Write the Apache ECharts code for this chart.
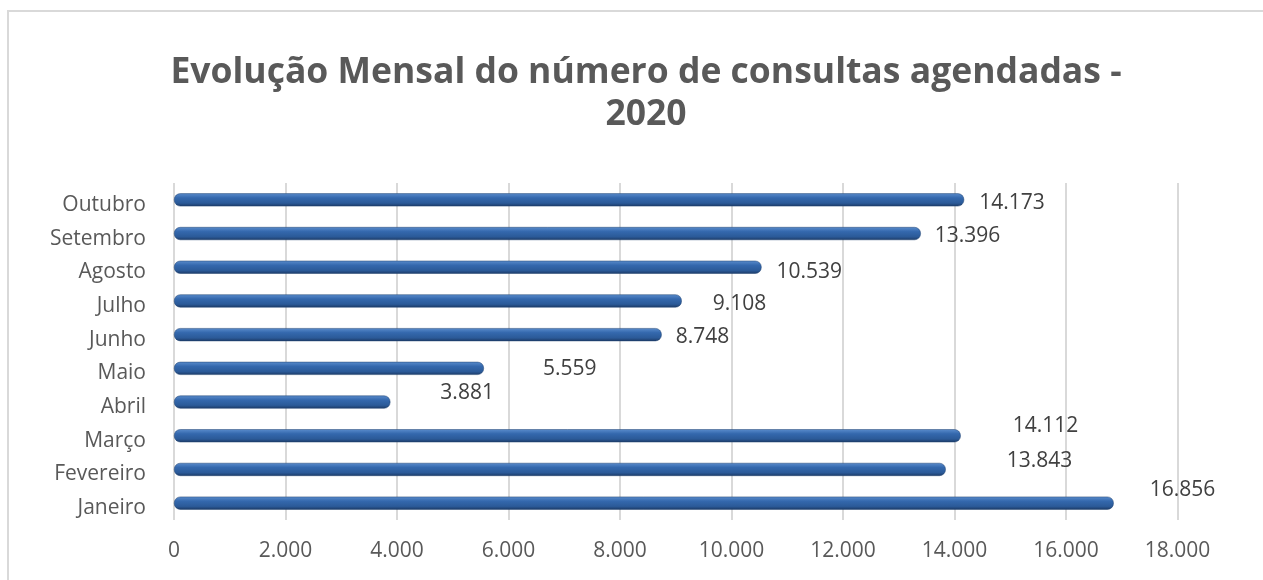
<!DOCTYPE html>
<html>
<head>
<meta charset="utf-8">
<script src="https://cdn.jsdelivr.net/npm/echarts@6/dist/echarts.min.js"></script>
<style>
html,body{margin:0;padding:0;background:#fff;}
#chart{width:1263px;height:580px;}
</style>
</head>
<body>
<div id="chart"></div>
<script>
const titleText = 'Evolução Mensal do número de consultas agendadas -\n2020';
const months = ['Janeiro','Fevereiro','Março','Abril','Maio','Junho','Julho','Agosto','Setembro','Outubro'];
const consultas = [16856, 13843, 14112, 3881, 5559, 8748, 9108, 10539, 13396, 14173];
const axisMin = 0, axisMax = 18000, axisStep = 2000;
// label nudges (style only), [dx, dy] in px
const labelNudges = [[36,-13],[61,-8],[52,-10],[50,-9],[59,1],[14,2],[31,3],[15,5],[14,2],[15,3]];

function fmt(v){ return String(v).replace(/\B(?=(\d{3})+(?!\d))/g, '.'); }

const chart = echarts.init(document.getElementById('chart'), null, {renderer:'canvas'});
const FONT = '"Open Sans", "Noto Sans", sans-serif';
chart.setOption({
  animation:false,
  backgroundColor:'#fff',
  graphic:[{type:'rect', shape:{x:8,y:11,width:1300,height:620}, style:{fill:'none', stroke:'#d9d9d9', lineWidth:2}, silent:true}],
  title:{
    text:titleText, left:641, top:47, textAlign:'center',
    textStyle:{fontFamily:FONT, fontWeight:'bold', fontSize:35.5, color:'#595959', lineHeight:42, align:'center'}
  },
  grid:{left:174, width:1003.5, top:183, height:337, containLabel:false},
  xAxis:{
    type:'value', min:axisMin, max:axisMax, interval:axisStep,
    axisLine:{show:false}, axisTick:{show:false},
    splitLine:{show:true, lineStyle:{color:'#d9d9d9', width:2}},
    axisLabel:{margin:21, color:'#595959', fontFamily:FONT, fontSize:21, formatter:fmt}
  },
  yAxis:{
    type:'category', data:months,
    axisLine:{show:false}, axisTick:{show:false},
    axisLabel:{margin:28, color:'#595959', fontFamily:FONT, fontSize:21, verticalAlign:'top', lineHeight:10}
  },
  series:[{
    type:'bar', barWidth:13,
    data: consultas.map((v,i)=>({value:v, label:{offset:labelNudges[i]}})),
    itemStyle:{
      borderRadius:6,
      color:new echarts.graphic.LinearGradient(0,0,0,1,[
        {offset:0, color:'#5a8ccc'},
        {offset:0.35, color:'#3468ad'},
        {offset:0.75, color:'#2b5a98'},
        {offset:1, color:'#1c3a66'}
      ]),
      borderColor:'#1f406f', borderWidth:0.5
    },
    label:{show:true, position:'right', distance:0, color:'#404040', fontFamily:FONT, fontSize:21, formatter:p=>fmt(p.value)}
  }]
});
</script>
</body>
</html>
